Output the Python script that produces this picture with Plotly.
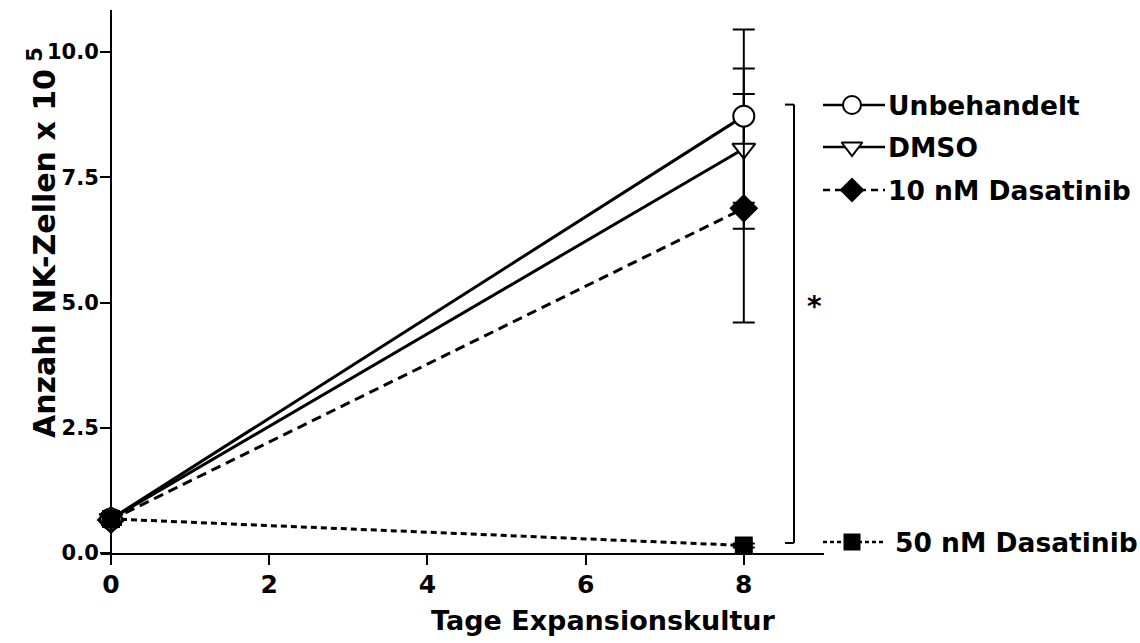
import plotly.graph_objects as go

# ---------------- data ----------------
days = [0, 8]
series_names = ["Unbehandelt", "DMSO", "10 nM Dasatinib", "50 nM Dasatinib"]
unbehandelt = [0.68, 8.72]
unbehandelt_err = [0.12, 1.73]
dmso = [0.68, 8.07]
dmso_err = [0.12, 1.60]
dasatinib_10 = [0.66, 6.88]
dasatinib_10_err = [0.10, 2.28]
dasatinib_50 = [0.68, 0.15]
dasatinib_50_err = [0.08, 0.04]
x_ticks = [0, 2, 4, 6, 8]
y_ticks = [0.0, 2.5, 5.0, 7.5, 10.0]
bracket_top = 8.95
bracket_bottom = 0.2

FONT = "DejaVu Sans, Liberation Sans, Arial, sans-serif"
W, H = 1140, 643

# plot geometry (pixels)
px_x0 = 111      # pixel of x=0
px_per_x = 79.1
px_left, px_right = 101, 824
px_y0 = 553      # pixel of y=0
px_per_y = 50.1
px_top = 10

x_range = [(px_left - px_x0) / px_per_x, (px_right - px_x0) / px_per_x]
y_range = [0, (px_y0 - px_top) / px_per_y]

fig = go.Figure()

def add_series(y, err, name, dash, symbol, fill, size):
    fig.add_trace(go.Scatter(
        x=days, y=y, name=name, mode="lines+markers",
        line=dict(color="black", width=3, dash=dash),
        marker=dict(symbol=symbol, size=size, color=fill,
                    line=dict(color="black", width=2)),
        error_y=dict(type="data", array=err, visible=True,
                     color="black", thickness=2, width=11),
        showlegend=False, cliponaxis=False,
    ))

add_series(dasatinib_10, dasatinib_10_err, series_names[2], "10px,6px", "diamond", "black", 20)
add_series(dmso, dmso_err, series_names[1], "solid", "triangle-down", "white", 20)
add_series(unbehandelt, unbehandelt_err, series_names[0], "solid", "circle", "white", 21)
add_series(dasatinib_50, dasatinib_50_err, series_names[3], "6px,4px", "square", "black", 16)

# significance bracket
bx = (794 - px_x0) / px_per_x
bx_tick = (785 - px_x0) / px_per_x
line_style = dict(color="black", width=2)
fig.add_shape(type="line", xref="x", yref="y", x0=bx, x1=bx, y0=bracket_bottom, y1=bracket_top, line=line_style)
fig.add_shape(type="line", xref="x", yref="y", x0=bx_tick, x1=bx, y0=bracket_top, y1=bracket_top, line=line_style)
fig.add_shape(type="line", xref="x", yref="y", x0=bx_tick, x1=bx, y0=bracket_bottom, y1=bracket_bottom, line=line_style)
fig.add_annotation(x=814, y=306, xref="x2", yref="y2",
                   text="<b>*</b>", showarrow=False, xanchor="center", yanchor="middle",
                   font=dict(family=FONT, size=28, color="black"))

# custom legend (pixel overlay axis)
legend_rows = [
    (series_names[0], 105, "solid", "circle", "white", 18, 886),
    (series_names[1], 147, "solid", "triangle-down", "white", 18, 886),
    (series_names[2], 190, "7px,5px", "diamond", "black", 17, 886),
    (series_names[3], 542, "4px,3px", "square", "black", 15, 893),
]
for name, ly, dash, sym, fill, sz, tx in legend_rows:
    fig.add_trace(go.Scatter(
        x=[823, 885], y=[ly, ly], mode="lines", xaxis="x2", yaxis="y2",
        line=dict(color="black", width=2.5, dash=dash), showlegend=False, hoverinfo="skip"))
    fig.add_trace(go.Scatter(
        x=[852], y=[ly], mode="markers", xaxis="x2", yaxis="y2",
        marker=dict(symbol=sym, size=sz, color=fill, line=dict(color="black", width=2)),
        showlegend=False, hoverinfo="skip"))
    fig.add_annotation(x=tx, y=ly, xref="x2", yref="y2", text="<b>" + name + "</b>",
                       showarrow=False, xanchor="left", yanchor="middle",
                       font=dict(family=FONT, size=26.5, color="black"))

# axis titles
fig.add_annotation(x=603, y=620, xref="x2", yref="y2",
                   text="<b>Tage Expansionskultur</b>", showarrow=False,
                   xanchor="center", yanchor="middle",
                   font=dict(family=FONT, size=27, color="black"))
fig.add_annotation(x=42, y=243, xref="x2", yref="y2",
                   text="<b>Anzahl NK-Zellen x 10<sup>&nbsp;5</sup></b>", showarrow=False,
                   textangle=-90, xanchor="center", yanchor="middle",
                   font=dict(family=FONT, size=30, color="black"))

fig.update_layout(
    width=W, height=H,
    margin=dict(l=0, r=0, t=0, b=0, autoexpand=False),
    paper_bgcolor="white", plot_bgcolor="rgba(0,0,0,0)",
    font=dict(family=FONT, color="black"),
    xaxis=dict(
        domain=[px_left / W, px_right / W], range=x_range,
        tickvals=x_ticks, ticktext=[f"<b>{v}</b>" for v in x_ticks],
        ticks="outside", ticklen=10, tickwidth=2, tickcolor="black",
        showline=True, linecolor="black", linewidth=2,
        showgrid=False, zeroline=False, automargin=False,
        tickfont=dict(family=FONT, size=25, color="black"),
        ticklabelstandoff=-2,
        anchor="y",
    ),
    yaxis=dict(
        domain=[1 - px_y0 / H, 1 - px_top / H], range=y_range,
        tickvals=y_ticks, ticktext=[f"<b>{v:.1f}</b>" for v in y_ticks],
        ticks="outside", ticklen=10, tickwidth=2, tickcolor="black",
        showline=True, linecolor="black", linewidth=2,
        showgrid=False, zeroline=False, automargin=False,
        tickfont=dict(family=FONT, size=21, color="black"),
        ticklabelstandoff=-3,
        anchor="free", position=px_x0 / W,
    ),
    xaxis2=dict(domain=[0, 1], range=[0, W], visible=False, anchor="y2",
                fixedrange=True, automargin=False),
    yaxis2=dict(domain=[0, 1], range=[H, 0], visible=False, anchor="x2",
                fixedrange=True, automargin=False),
)

fig.write_html("out.html")
